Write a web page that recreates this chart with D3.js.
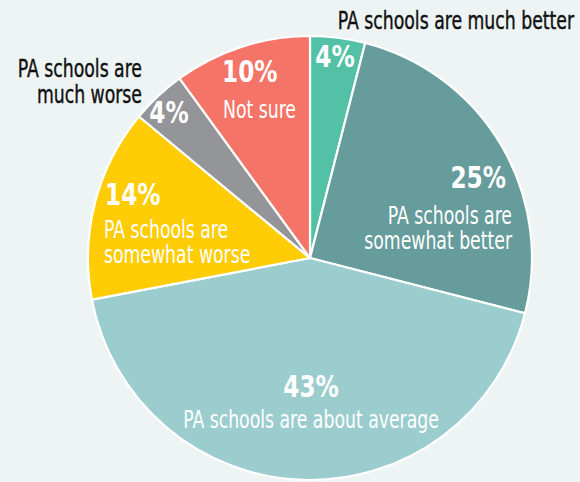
<!DOCTYPE html>
<html>
  <head>
    <meta charset="utf-8" />
    <title>PA schools compared</title>
    <script src="https://d3js.org/d3.v7.min.js"></script>
    <style>
      html, body {
        margin: 0;
        padding: 0;
        background: #eef4f4;
      }
      svg text {
        font-family: "DejaVu Sans Condensed", "DejaVu Sans", sans-serif;
      }
    </style>
  </head>
  <body>
    <div id="chart"></div>
    <script>
      // data
      var categories = [
        "PA schools are much better",
        "PA schools are somewhat better",
        "PA schools are about average",
        "PA schools are somewhat worse",
        "PA schools are much worse",
        "Not sure"
      ];
      var values = [4, 25, 43, 14, 4, 10];
      var colors = ["#52c1a6", "#669c9c", "#9bcdce", "#ffcc05", "#949599", "#f47467"];

      var width = 580;
      var height = 482;
      var cx = 310, cy = 258, radius = 222;

      // the original uses a condensed face, so squeeze the glyphs horizontally
      var descSqueeze = 0.8;
      var pctSqueeze = 0.86;

      var svg = d3
        .select("#chart")
        .append("svg")
        .attr("width", width)
        .attr("height", height);

      svg.append("rect")
        .attr("width", width)
        .attr("height", height)
        .attr("fill", "#eef4f4");

      var pie = d3.pie().sort(null).value(function (d) { return d; });
      var arc = d3.arc().innerRadius(0).outerRadius(radius);
      var arcs = pie(values);

      var g = svg.append("g").attr("transform", "translate(" + cx + "," + cy + ")");

      g.selectAll("path")
        .data(arcs)
        .enter()
        .append("path")
        .attr("d", arc)
        .attr("fill", function (d, i) { return colors[i]; })
        .attr("stroke", "#ffffff")
        .attr("stroke-width", 2.2)
        .attr("stroke-linejoin", "round");

      // label layout, relative to the pie centre
      var layout = [
        { x: 25, y: -191, anchor: "middle", lines: ["PA schools are much better"], dx: 264, dy: [-229], dAnchor: "end", dark: true },
        { x: 196, y: -70, anchor: "end", lines: ["PA schools are", "somewhat better"], dx: 202, dy: [-34, -9], dAnchor: "end" },
        { x: 1, y: 139, anchor: "middle", lines: ["PA schools are about average"], dx: 1, dy: [170], dAnchor: "middle" },
        { x: -205, y: -53, anchor: "start", lines: ["PA schools are", "somewhat worse"], dx: -206, dy: [-20, 5], dAnchor: "start" },
        { x: -141, y: -135, anchor: "middle", lines: ["PA schools are", "much worse"], dx: -168, dy: [-181, -155], dAnchor: "end", dark: true },
        { x: -88, y: -176, anchor: "start", lines: ["Not sure"], dx: -87, dy: [-140], dAnchor: "start" }
      ];

      var labels = g.selectAll("g.label")
        .data(arcs)
        .enter()
        .append("g")
        .attr("class", "label");

      labels.append("text")
        .attr("transform", function (d, i) {
          return "translate(" + layout[i].x + "," + layout[i].y + ") scale(" + pctSqueeze + ",1)";
        })
        .attr("text-anchor", function (d, i) { return layout[i].anchor; })
        .attr("fill", "#ffffff")
        .attr("font-weight", "bold")
        .attr("font-size", 30)
        .text(function (d) { return d.data + "%"; });

      labels.each(function (d, i) {
        var L = layout[i];
        d3.select(this).selectAll("text.desc")
          .data(L.lines)
          .enter()
          .append("text")
          .attr("class", "desc")
          .attr("transform", function (t, j) {
            return "translate(" + L.dx + "," + L.dy[j] + ") scale(" + descSqueeze + ",1)";
          })
          .attr("text-anchor", L.dAnchor)
          .attr("fill", L.dark ? "#111111" : "#ffffff")
          .attr("stroke", L.dark ? "#111111" : "none")
          .attr("stroke-width", 0.4)
          .attr("font-size", 24)
          .text(function (t) { return t; });
      });
    </script>
  </body>
</html>
